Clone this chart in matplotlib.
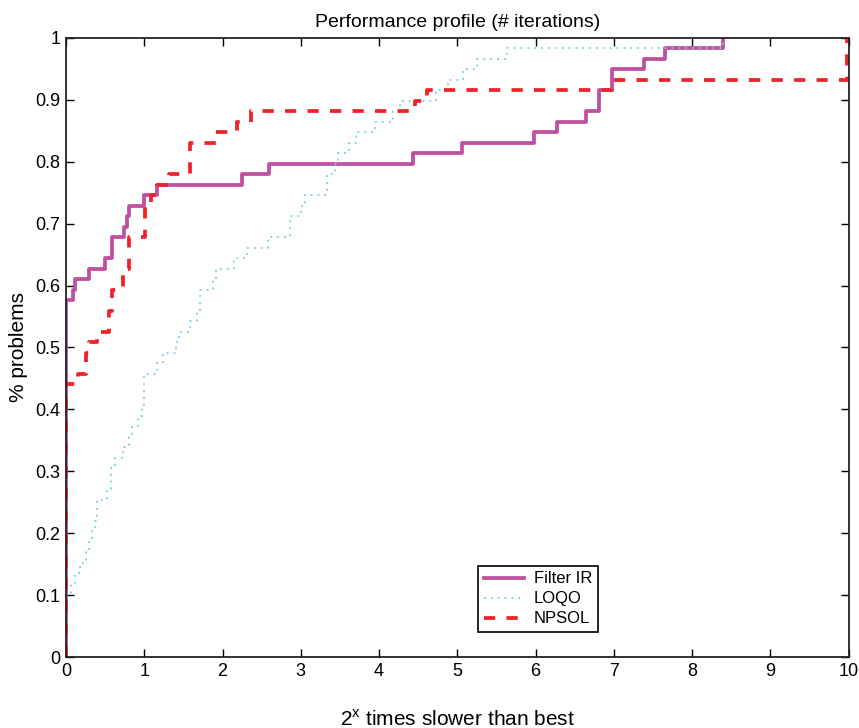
import numpy as np
import matplotlib
matplotlib.use("Agg")
import matplotlib.pyplot as plt

plt.rcParams['font.family'] = ['Liberation Sans', 'DejaVu Sans']
plt.rcParams['mathtext.fontset'] = 'custom'
plt.rcParams['mathtext.rm'] = 'Liberation Sans'

n_problems = 59

# step positions (log2 ratio) and number of problems solved from there on
filter_x = [0, 0, 0.094, 0.11, 0.297, 0.498, 0.584, 0.741, 0.783, 0.809, 1.0, 1.166,
            2.25, 2.59, 4.44, 5.06, 5.98, 6.27, 6.64, 6.81, 6.97, 7.39, 7.65, 8.39]
filter_n = [0, 34, 35, 36, 37, 38, 40, 41, 42, 43, 44, 45,
            46, 47, 48, 49, 50, 51, 52, 54, 56, 57, 58, 59]

loqo_x = [0, 0, 0.06, 0.12, 0.18, 0.26, 0.29, 0.33, 0.37, 0.40, 0.52, 0.58, 0.63, 0.73,
          0.80, 0.84, 0.92, 0.97, 1.0, 1.16, 1.24, 1.40, 1.45, 1.58, 1.67, 1.71, 1.88,
          1.92, 2.15, 2.31, 2.58, 2.86, 3.00, 3.05, 3.33, 3.44, 3.48, 3.62, 3.71, 3.95,
          4.18, 4.27, 4.73, 4.88, 5.07, 5.25, 5.64, 8.39]
loqo_n = [0, 6, 7, 8, 9, 10, 11, 12, 13, 15, 16, 18, 19, 20,
          21, 22, 23, 24, 27, 28, 29, 30, 31, 32, 33, 35, 36,
          37, 38, 39, 40, 42, 43, 44, 46, 47, 48, 49, 50, 51,
          52, 53, 54, 55, 56, 57, 58, 59]

npsol_x = [0, 0, 0.15, 0.26, 0.30, 0.40, 0.553, 0.584, 0.73, 0.81, 1.01, 1.09, 1.16,
           1.32, 1.59, 1.92, 2.18, 2.36, 4.46, 4.61, 6.97, 9.98, 10.0]
npsol_n = [0, 26, 27, 29, 30, 31, 33, 35, 37, 40, 43, 44, 45,
           46, 49, 50, 51, 52, 53, 54, 55, 59, 59]

fig = plt.figure(figsize=(8.59, 7.28), dpi=100)
ax = fig.add_axes([0.0768, 0.0975, 0.9112, 0.8505])

ax.step(filter_x, np.array(filter_n) / n_problems, where='post',
        color='#BF4FA0', lw=2.7, label='Filter IR')
ax.step(loqo_x, np.array(loqo_n) / n_problems, where='post',
        color='#74CFDF', lw=1.3, linestyle=(0, (1, 2.8)), label='LOQO')
ax.step(npsol_x, np.array(npsol_n) / n_problems, where='post',
        color='#EE2229', lw=2.7, linestyle=(0, (3.0, 3.0)), label='NPSOL')

ax.set_xlim(0, 10)
ax.set_ylim(0, 1)
ax.set_xticks(np.arange(0, 11, 1))
ax.set_yticks(np.arange(0, 1.01, 0.1))
ax.set_yticklabels(['0', '0.1', '0.2', '0.3', '0.4', '0.5', '0.6', '0.7', '0.8', '0.9', '1'])
ax.tick_params(direction='in', top=True, right=True, length=6, width=1, labelsize=13, pad=4)
for s in ax.spines.values():
    s.set_linewidth(1.3)
    s.set_color('#222222')

ax.set_title('Performance profile (# iterations)', fontsize=14, pad=8)
ax.set_xlabel('2$^{\\mathrm{x}}$ times slower than best', fontsize=15, labelpad=21)
ax.set_ylabel('% problems', fontsize=15, labelpad=5)

leg = ax.legend(loc='lower left', bbox_to_anchor=(0.526, 0.040), fontsize=12,
                fancybox=False, edgecolor='black', framealpha=1, handlelength=2.4,
                borderpad=0.35, labelspacing=0.3, handletextpad=0.6, borderaxespad=0)
leg.get_frame().set_linewidth(1.2)

fig.savefig('out.png', dpi=100)
